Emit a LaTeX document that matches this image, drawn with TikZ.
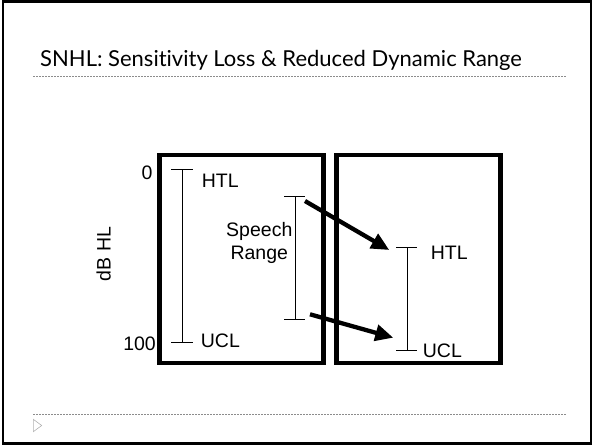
\documentclass[tikz,border=0pt]{standalone}
\usepackage{fontspec}
\setmainfont{Liberation Sans}
\newfontfamily\titlefont[Ligatures=NoCommon]{Lato}
\usetikzlibrary{arrows.meta}
\begin{document}
\begin{tikzpicture}[x=1pt,y=-1pt,
  panel/.style={draw, line width=4.7pt, minimum width=164pt, minimum height=208pt, inner sep=0pt},
  lbl/.style={inner sep=0pt, font=\fontsize{19.5}{22}\selectfont},
  bar/.style={line width=0.9pt},
  bigarrow/.style={line width=4.3pt, -{Triangle[length=18pt,width=16pt]}},
  sliderule/.style={black!45, dash pattern=on 2pt off 1pt, line width=1pt},
  frame/.style={draw, line width=2.5pt}]
\useasboundingbox (0,0) rectangle (592,445);
% slide frame
\draw[frame] (3,1.5) rectangle (591,443.5);
% title
\node[anchor=base west, inner sep=0pt, font=\titlefont\fontsize{22}{25}\selectfont] (title) at (40,66) {SNHL: Sensitivity Loss \& Reduced Dynamic Range};
\coordinate (t1) at (33.3,76.5);
\coordinate (t2) at (566.7,76.5);
\draw[sliderule] (t1) -- (t2);
\coordinate (b1) at (33.3,414);
\coordinate (b2) at (566.7,414);
\draw[sliderule] (b1) -- (b2);
\draw[black!30, line width=0.6pt] (33.3,419.3) -- (41.7,425.5) -- (33.3,431.7) -- cycle;
% panels
\node[panel] (left) at (241.7,259) {};
\node[panel] (right) at (418.3,259) {};
% left range
\coordinate (lt) at (182.7,169.3);
\coordinate (lb) at (182.7,342);
\draw[bar] (lt) -- (lb);
\draw[bar] ([xshift=-11.7pt]lt) -- ([xshift=10pt]lt);
\draw[bar] ([xshift=-11.7pt]lb) -- ([xshift=10pt]lb);
\node[lbl, anchor=east] (zero) at (152.7,173) {0};
\node[lbl, anchor=east] (hundred) at (156,344) {100};
\node[lbl, anchor=west] (htl1) at (201.7,180.7) {HTL};
\node[lbl, anchor=west] (ucl1) at (200.7,341) {UCL};
\node[lbl, rotate=90] (dbhl) at (103.7,254) {dB HL};
% speech range
\coordinate (st) at (295.3,196);
\coordinate (sb) at (295.3,319.3);
\draw[bar] (st) -- (sb);
\draw[bar] ([xshift=-11.3pt]st) -- ([xshift=10pt]st);
\draw[bar] ([xshift=-11.3pt]sb) -- ([xshift=10pt]sb);
\node[lbl, anchor=base] (speech) at (259.3,236.7) {Speech};
\node[lbl, anchor=base] (range) at (259.3,259.3) {Range};
% right range
\coordinate (rt) at (407.3,247.3);
\coordinate (rb) at (407.3,350);
\draw[bar] (rt) -- (rb);
\draw[bar] ([xshift=-11.3pt]rt) -- ([xshift=10pt]rt);
\draw[bar] ([xshift=-11.3pt]rb) -- ([xshift=10pt]rb);
\node[lbl, anchor=west] (htl2) at (430.7,253) {HTL};
\node[lbl, anchor=west] (ucl2) at (422.7,350.8) {UCL};
% arrows
\coordinate (a1s) at (305,201);
\coordinate (a1e) at (389.3,250);
\coordinate (a2s) at (310,314.3);
\coordinate (a2e) at (393.3,337.7);
\draw[bigarrow] (a1s) -- (a1e);
\draw[bigarrow] (a2s) -- (a2e);
\end{tikzpicture}
\end{document}
